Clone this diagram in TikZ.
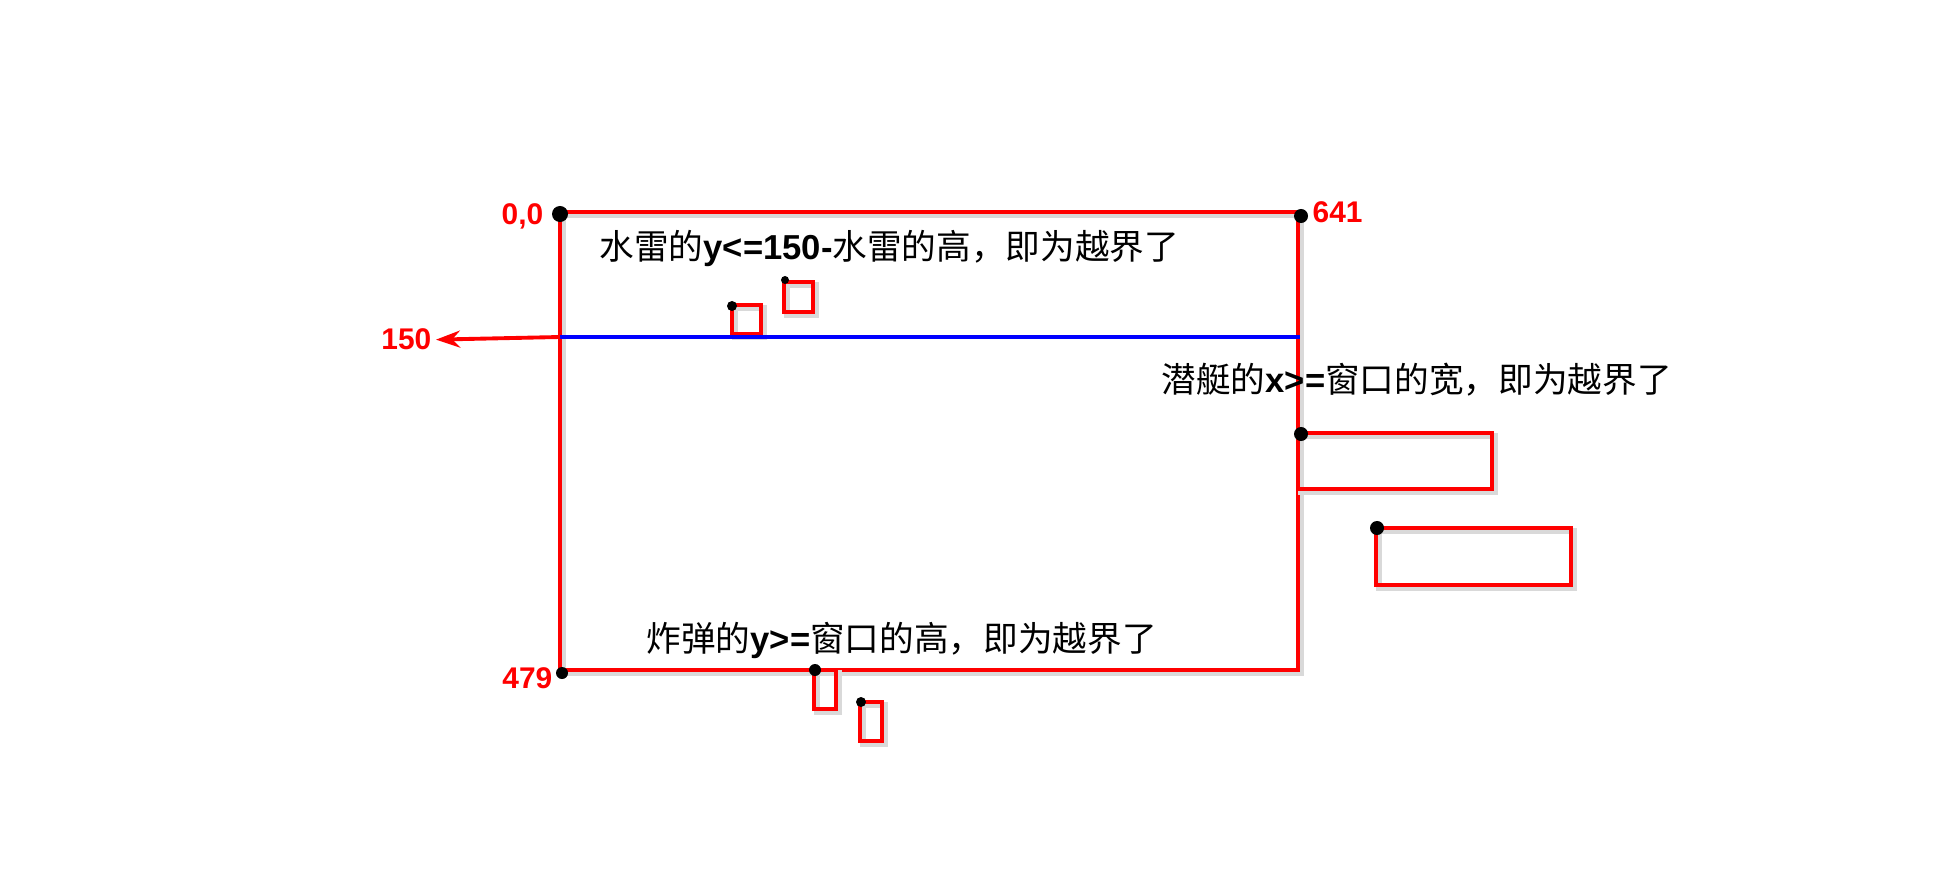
\documentclass[tikz,border=0pt]{standalone}
\usepackage{fontspec}
\setmainfont{Liberation Sans}
\newfontfamily\cjk{Noto Sans CJK SC}
\usepackage{tikz}
\usetikzlibrary{arrows.meta,positioning,calc}

\tikzset{
  redline/.style={draw=red, line width=1.1pt,
    preaction={draw=black!15, line width=1.6pt,
      transform canvas={xshift=0.9pt,yshift=-0.9pt}}},
  bluline/.style={draw=blue, line width=1.1pt},
  sprite/.style={redline, anchor=north west, inner sep=0pt, outer sep=0pt},
  numlabel/.style={text=red, inner sep=0pt,
    font=\fontsize{8.5pt}{10pt}\selectfont\bfseries},
  note/.style={inner sep=0pt, anchor=base west,
    font=\fontsize{9.85pt}{12pt}\selectfont},
  blob/.style={fill=black}
}

\begin{document}
\begin{tikzpicture}[x=0.01cm,y=-0.01cm]
  \useasboundingbox (0,0) rectangle (1936,882);

  \coordinate (wtl) at (560,212);
  \coordinate (wtr) at (1298,212);
  \coordinate (wbr) at (1298,670);
  \coordinate (wbl) at (560,670);
  \coordinate (lim) at (560,337);
  \coordinate (limr) at (1300,337);

  \draw[redline] (wtl) -- (wtr) -- (wbr) -- (wbl) -- cycle;

  \node[numlabel, anchor=base east] (origin) at (544,225) {0,0};
  \node[numlabel, anchor=base west] (width) at (1312,222) {641};
  \node[numlabel, anchor=base east] (limit) at (432,350) {150};
  \node[numlabel, anchor=base east] (height) at (553,688) {479};

  \node[sprite, minimum width=0.29cm, minimum height=0.29cm] (mine1) at (732,305) {};
  \node[sprite, minimum width=0.29cm, minimum height=0.30cm] (mine2) at (784,282) {};
  \node[sprite, minimum width=1.94cm, minimum height=0.56cm] (sub1) at (1298,433) {};
  \node[sprite, minimum width=1.95cm, minimum height=0.57cm] (sub2) at (1376,528) {};
  \node[sprite, minimum width=0.22cm, minimum height=0.39cm] (bomb1) at (814,670) {};
  \node[sprite, minimum width=0.22cm, minimum height=0.39cm] (bomb2) at (860,702) {};

  \draw[bluline] (lim) -- (limr);
  \draw[draw=red, line width=1.1pt, shorten >=0.04cm,
        -{Stealth[length=0.24cm,width=0.17cm]}] (lim) -- (limit.east);

  \fill[blob] ($(wtl)+(0,2)$) circle (0.08cm);
  \fill[blob] ($(wtr)+(3,4)$) circle (0.07cm);
  \fill[blob] ($(wbl)+(2,3)$) circle (0.06cm);
  \fill[blob] ($(sub1.north west)+(3,1)$) circle (0.07cm);
  \fill[blob] ($(sub2.north west)+(1,0)$) circle (0.07cm);
  \fill[blob] ($(bomb1.north west)+(1,0)$) circle (0.06cm);
  \fill[blob] ($(bomb2.north west)+(1,0)$) circle (0.05cm);
  \fill[blob] ($(mine1.north west)+(0,1)$) circle (0.05cm);
  \fill[blob] ($(mine2.north west)+(1,-2)$) circle (0.04cm);

  \node[note] (mineNote) at (599,260) {{\cjk 水雷的}\textbf{y<=150-}{\cjk 水雷的高，即为越界了}};
  \node[note] (subNote) at (1161,393) {{\cjk 潜艇的}\textbf{x>=}{\cjk 窗口的宽，即为越界了}};
  \node[note] (bombNote) at (646,651) {{\cjk 炸弹的}\textbf{y>=}{\cjk 窗口的高，即为越界了}};
\end{tikzpicture}
\end{document}
